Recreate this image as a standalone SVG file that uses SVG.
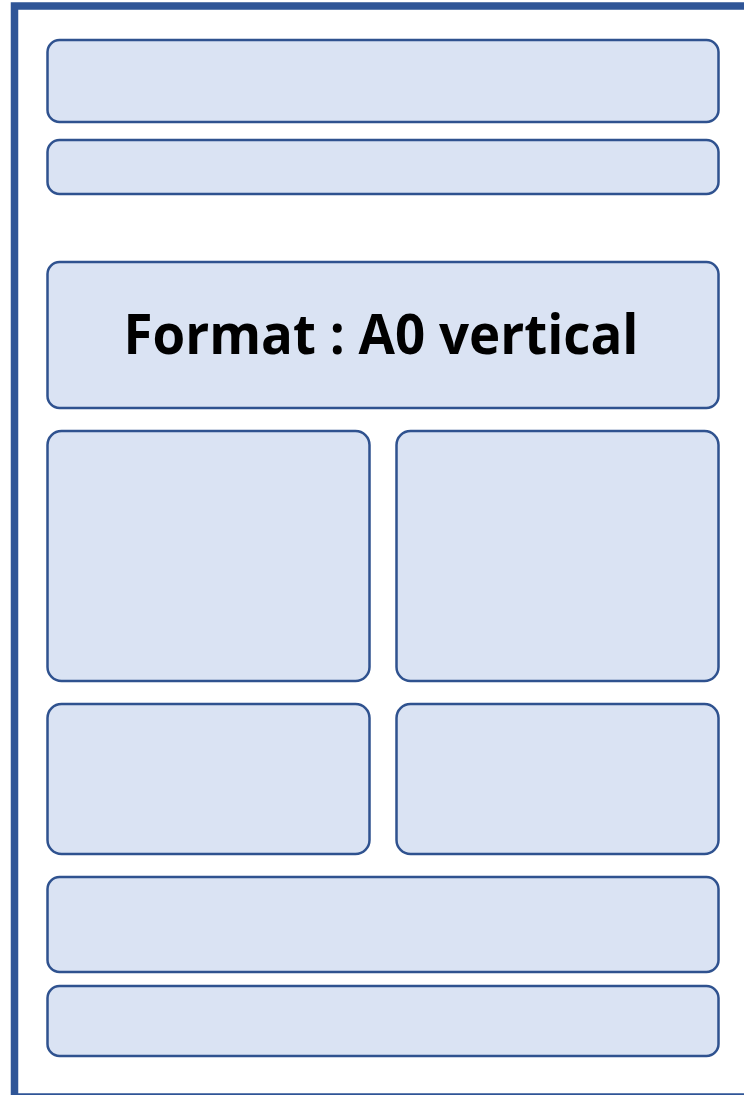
<svg xmlns="http://www.w3.org/2000/svg" width="744" height="1095" viewBox="0 0 744 1095">
<style>
.box{fill:#DAE3F3;stroke:#2F528F;stroke-width:2.5}
.title{font-family:"Open Sans","Liberation Sans",sans-serif;font-weight:bold;font-size:56px;fill:#000}
</style>
<rect width="744" height="1095" fill="#fff"/>
<g id="frame"><rect x="14.5" y="6" width="740" height="1091" fill="none" stroke="#2F5597" stroke-width="7.5"/></g>
<g id="b1"><rect class="box" x="47.5" y="40" width="671" height="82" rx="12"/></g>
<g id="b2"><rect class="box" x="47.5" y="140" width="671" height="54" rx="12"/></g>
<g id="b3"><rect class="box" x="47.5" y="262" width="671" height="146" rx="12"/>
<text class="title" x="381" y="354" text-anchor="middle" textLength="515" lengthAdjust="spacingAndGlyphs">Format : A0 vertical</text></g>
<g id="b4l"><rect class="box" x="47.5" y="431" width="322" height="250" rx="14"/></g>
<g id="b4r"><rect class="box" x="396.5" y="431" width="322" height="250" rx="14"/></g>
<g id="b5l"><rect class="box" x="47.5" y="704" width="322" height="150" rx="14"/></g>
<g id="b5r"><rect class="box" x="396.5" y="704" width="322" height="150" rx="14"/></g>
<g id="b6"><rect class="box" x="47.5" y="877" width="671" height="95" rx="12"/></g>
<g id="b7"><rect class="box" x="47.5" y="986" width="671" height="70" rx="12"/></g>
<g id="connectors"/>
</svg>
